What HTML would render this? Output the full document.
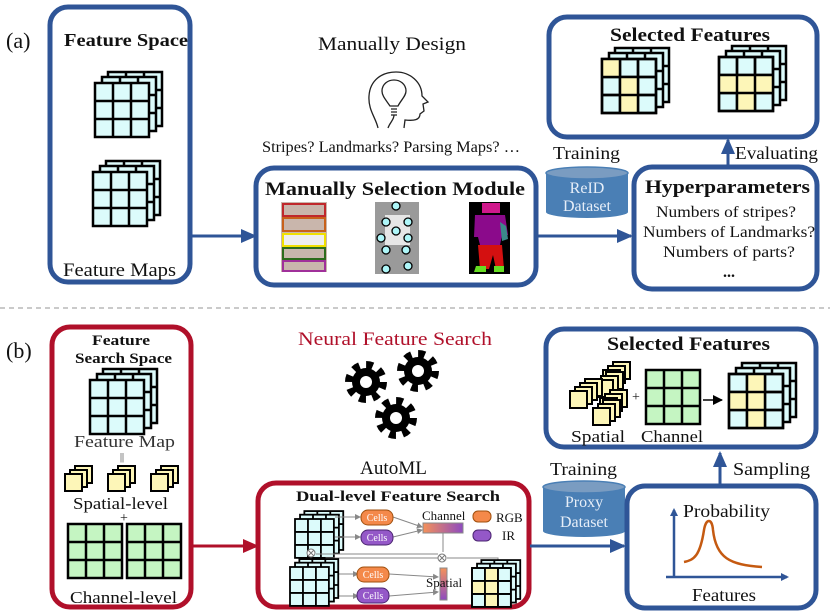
<!DOCTYPE html>
<html><head><meta charset="utf-8"><style>
html,body{margin:0;padding:0;background:#fff}
svg{display:block}
text{font-family:"Liberation Serif",serif;fill:#111}
.b{font-weight:bold}
</style></head><body>
<svg width="830" height="611" viewBox="0 0 830 611" xmlns="http://www.w3.org/2000/svg">
<defs>
<g id="g3">
<rect x="0" y="0" width="54" height="54" fill="#dcfbfb" stroke="#000" stroke-width="2.5"/>
<path d="M18 0V54M36 0V54M0 18H54M0 36H54" stroke="#000" stroke-width="2.5"/>
</g>
<g id="cube"><use href="#g3" x="13" y="-11"/><use href="#g3" x="7" y="-6"/><use href="#g3"/></g>
<g id="gg">
<rect x="0" y="0" width="54" height="54" fill="#c5f5c2" stroke="#000" stroke-width="2.5"/>
<path d="M18 0V54M36 0V54M0 18H54M0 36H54" stroke="#000" stroke-width="2.5"/>
</g>
<g id="ysq"><rect x="10" y="-8" width="17" height="17" fill="#fdf6b8" stroke="#000" stroke-width="2"/><rect x="5" y="-4" width="17" height="17" fill="#fdf6b8" stroke="#000" stroke-width="2"/><rect x="0" y="0" width="17" height="17" fill="#fdf6b8" stroke="#000" stroke-width="2"/></g>
<g id="gear"><circle r="14" fill="#000"/><circle r="17" fill="none" stroke="#000" stroke-width="8" stroke-dasharray="6.7 6.65"/><circle r="6" fill="#fff"/></g>
<linearGradient id="op" x1="0" x2="1"><stop offset="0" stop-color="#f4915a"/><stop offset="1" stop-color="#8e4bc0"/></linearGradient>
<linearGradient id="opv" x1="0" x2="0" y1="0" y2="1"><stop offset="0" stop-color="#f4915a"/><stop offset="1" stop-color="#8e4bc0"/></linearGradient>
<marker id="ab" markerWidth="8" markerHeight="8" refX="6" refY="4" orient="auto" markerUnits="userSpaceOnUse"><path d="M0 0L8 4L0 8Z" fill="#2f5597"/></marker>
<marker id="abig" markerWidth="16" markerHeight="14" refX="14" refY="7" orient="auto" markerUnits="userSpaceOnUse"><path d="M0 0L16 7L0 14Z" fill="#2f5597"/></marker>
<marker id="ar" markerWidth="16" markerHeight="14" refX="14" refY="7" orient="auto" markerUnits="userSpaceOnUse"><path d="M0 0L16 7L0 14Z" fill="#b0102a"/></marker>
<marker id="ag" markerWidth="6" markerHeight="6" refX="5" refY="3" orient="auto" markerUnits="userSpaceOnUse"><path d="M0 0L6 3L0 6Z" fill="#888"/></marker>
<marker id="ak" markerWidth="10" markerHeight="10" refX="9" refY="5" orient="auto" markerUnits="userSpaceOnUse"><path d="M0 0L10 5L0 10Z" fill="#000"/></marker>
</defs>

<!-- (a) -->
<text x="6" y="48" font-size="22">(a)</text>
<rect x="50" y="7" width="140" height="275" rx="18" fill="none" stroke="#2f5597" stroke-width="5"/>
<text x="64" y="46" font-size="18" class="b" textLength="124" lengthAdjust="spacingAndGlyphs">Feature Space</text>
<use href="#cube" x="95" y="83"/>
<use href="#cube" x="93" y="172"/>
<text x="63" y="276" font-size="19" textLength="113" lengthAdjust="spacingAndGlyphs">Feature Maps</text>
<line x1="190" y1="236" x2="255" y2="236" stroke="#2f5597" stroke-width="3" marker-end="url(#abig)"/>

<text x="318" y="50" font-size="19" textLength="148" lengthAdjust="spacingAndGlyphs">Manually Design</text>
<g fill="none" stroke="#222" stroke-width="1.3">
<path d="M378 128 C376 118 368 110 369 96 C370 80 382 72 396 72 C410 72 422 82 422 96 L428 102 L423 104 L424 111 L420 114 C420 120 414 121 405 120 L404 128"/>
<path d="M390 106 C386 100 382 96 382 91 C382 84 388 80 394 80 C400 80 406 84 406 91 C406 96 401 100 398 106 Z"/>
<path d="M391 109H397M391 112H397M391 115H397M394 115 C394 120 390 122 388 128"/>
</g>
<text x="262" y="152" font-size="16" textLength="258" lengthAdjust="spacingAndGlyphs">Stripes? Landmarks? Parsing Maps? …</text>

<rect x="256" y="168" width="280" height="117" rx="18" fill="none" stroke="#2f5597" stroke-width="5"/>
<text x="265" y="195" font-size="19" class="b" textLength="260" lengthAdjust="spacingAndGlyphs">Manually Selection Module</text>
<rect x="281" y="202" width="46" height="70" fill="#c9b6ac"/>
<rect x="283" y="204" width="42" height="12" fill="none" stroke="#c0282c" stroke-width="2"/>
<rect x="283" y="218" width="42" height="13" fill="none" stroke="#c8611b" stroke-width="2"/>
<rect x="283" y="234" width="42" height="12" fill="#eee" stroke="#f0e000" stroke-width="2"/>
<rect x="283" y="248" width="42" height="11" fill="none" stroke="#2d6b1b" stroke-width="2"/>
<rect x="283" y="261" width="42" height="10" fill="none" stroke="#a0309a" stroke-width="2"/>
<rect x="375" y="202" width="44" height="72" fill="#9a9a9a"/>
<rect x="385" y="215" width="25" height="30" fill="#e6e6e6"/>
<g fill="#aef6f8" stroke="#000" stroke-width="1.3">
<circle cx="396" cy="206" r="4"/><circle cx="386" cy="222" r="4"/><circle cx="408" cy="222" r="4"/><circle cx="396" cy="231" r="4"/><circle cx="381" cy="238" r="4"/><circle cx="408" cy="238" r="4"/><circle cx="386" cy="250" r="4"/><circle cx="406" cy="250" r="4"/><circle cx="386" cy="269" r="4"/><circle cx="408" cy="266" r="4"/>
</g>
<rect x="469" y="202" width="41" height="72" fill="#000"/>
<path d="M482 203h18v10h-18z" fill="#d0198c"/>
<path d="M475 215h30l3 20h-6l-2 10h-20l-2-8h-4z" fill="#8b0a8b"/>
<path d="M478 245h24l2 24h-8l-3-14-4 14h-9z" fill="#d41010"/>
<path d="M500 222l6 4 2 13-6 2z" fill="#3a8a8a"/>
<path d="M476 266h10v6h-12zM494 266h10v6h-10z" fill="#66dd22"/>

<line x1="536" y1="236" x2="631" y2="236" stroke="#2f5597" stroke-width="3" marker-end="url(#abig)"/>
<text x="553" y="159" font-size="18" textLength="67" lengthAdjust="spacingAndGlyphs">Training</text>
<path d="M546 173 V212 A41 6 0 0 0 628 212 V173 Z" fill="#4a7fb5"/>
<ellipse cx="587" cy="173" rx="41" ry="6" fill="#7a9cc1" stroke="#4a7fb5" stroke-width="1.5"/>
<text x="587" y="193" font-size="16" text-anchor="middle" style="fill:#e6eef8">ReID</text>
<text x="587" y="211" font-size="16" text-anchor="middle" style="fill:#e6eef8">Dataset</text>

<rect x="634" y="167" width="183" height="122" rx="18" fill="none" stroke="#2f5597" stroke-width="5"/>
<text x="645" y="193" font-size="19" class="b" textLength="165" lengthAdjust="spacingAndGlyphs">Hyperparameters</text>
<text x="726" y="217" font-size="15.5" text-anchor="middle" textLength="140" lengthAdjust="spacingAndGlyphs">Numbers of stripes?</text>
<text x="729" y="237" font-size="15.5" text-anchor="middle" textLength="172" lengthAdjust="spacingAndGlyphs">Numbers of Landmarks?</text>
<text x="729" y="257" font-size="15.5" text-anchor="middle" textLength="132" lengthAdjust="spacingAndGlyphs">Numbers of  parts?</text>
<text x="729" y="277" font-size="16" class="b" text-anchor="middle">...</text>
<line x1="728" y1="167" x2="728" y2="140" stroke="#2f5597" stroke-width="3" marker-end="url(#abig)"/>
<text x="735" y="159" font-size="18" textLength="83" lengthAdjust="spacingAndGlyphs">Evaluating</text>

<rect x="549" y="17" width="268" height="120" rx="18" fill="none" stroke="#2f5597" stroke-width="5"/>
<text x="610" y="41" font-size="19" class="b" textLength="160" lengthAdjust="spacingAndGlyphs">Selected Features</text>
<use href="#cube" x="602" y="59"/>
<rect x="603" y="60" width="17" height="17" fill="#fdf6b8"/><rect x="621" y="78" width="17" height="17" fill="#fdf6b8"/><rect x="621" y="96" width="17" height="17" fill="#fdf6b8"/>
<path d="M602 59h54v54h-54zM620 59V113M638 59V113M602 77H656M602 95H656" fill="none" stroke="#000" stroke-width="2.5"/>
<use href="#cube" x="719" y="57"/>
<rect x="720" y="76" width="53" height="17" fill="#fdf6b8"/><rect x="738" y="94" width="17" height="17" fill="#fdf6b8"/>
<path d="M719 57h54v54h-54zM737 57V111M755 57V111M719 75H773M719 93H773" fill="none" stroke="#000" stroke-width="2.5"/>

<line x1="0" y1="308" x2="830" y2="308" stroke="#aaa" stroke-width="1.2" stroke-dasharray="5 4"/>

<!-- (b) -->
<text x="6" y="358" font-size="22">(b)</text>
<rect x="52" y="327" width="139" height="280" rx="18" fill="none" stroke="#b0102a" stroke-width="5"/>
<text x="92" y="345" font-size="15" class="b" textLength="58" lengthAdjust="spacingAndGlyphs">Feature</text>
<text x="75" y="363" font-size="15" class="b" textLength="97" lengthAdjust="spacingAndGlyphs">Search Space</text>
<use href="#cube" x="90" y="380"/>
<text x="74" y="447" font-size="17" textLength="101" lengthAdjust="spacingAndGlyphs" style="fill:#333">Feature Map</text>
<text x="122" y="460" font-size="10" text-anchor="middle">||</text>
<use href="#ysq" x="65" y="474"/><use href="#ysq" x="108" y="474"/><use href="#ysq" x="151" y="474"/>
<text x="73" y="509" font-size="17" textLength="95" lengthAdjust="spacingAndGlyphs">Spatial-level</text>
<text x="124" y="522" font-size="14" text-anchor="middle">+</text>
<use href="#gg" x="68" y="524"/><use href="#gg" x="127" y="524"/>
<text x="70" y="603" font-size="17" textLength="107" lengthAdjust="spacingAndGlyphs">Channel-level</text>
<line x1="191" y1="546" x2="257" y2="546" stroke="#b0102a" stroke-width="3" marker-end="url(#ar)"/>

<text x="298" y="345" font-size="19" textLength="194" lengthAdjust="spacingAndGlyphs" style="fill:#b0102a">Neural Feature Search</text>
<use href="#gear" x="366" y="382"/><use href="#gear" x="418" y="371"/><use href="#gear" x="396" y="418"/>
<text x="360" y="474" font-size="19" textLength="67" lengthAdjust="spacingAndGlyphs">AutoML</text>

<rect x="258" y="483" width="271" height="124" rx="18" fill="none" stroke="#b0102a" stroke-width="5"/>
<text x="296" y="501" font-size="15" class="b" textLength="204" lengthAdjust="spacingAndGlyphs">Dual-level Feature Search</text>
<g transform="translate(295,519) scale(0.72)"><use href="#cube"/></g>
<g stroke="#888" stroke-width="1" fill="none">
<path d="M335 517H360" marker-end="url(#ag)"/><path d="M335 537H360" marker-end="url(#ag)"/>
<path d="M393 517L422 527" marker-end="url(#ag)"/><path d="M393 537L422 530" marker-end="url(#ag)"/>
<path d="M443 533V552"/><path d="M438 554H316"/><path d="M311 558V566"/>
<path d="M326 567V558H438"/><path d="M447 558H498V566" marker-end="url(#ag)"/>
<path d="M330 574H358" marker-end="url(#ag)"/><path d="M330 596H358" marker-end="url(#ag)"/>
<path d="M389 574L438 577" marker-end="url(#ag)"/><path d="M389 596L438 592" marker-end="url(#ag)"/>
</g>
<g font-size="10">
<rect x="361" y="510" width="32" height="15" rx="7" fill="#f4894a" stroke="#a0500d"/><text x="377" y="521" font-size="10" text-anchor="middle" style="fill:#fff">Cells</text>
<rect x="361" y="530" width="32" height="15" rx="7" fill="#9458c8" stroke="#4a2470"/><text x="377" y="541" font-size="10" text-anchor="middle" style="fill:#fff">Cells</text>
<rect x="357" y="567" width="32" height="15" rx="7" fill="#f4894a" stroke="#a0500d"/><text x="373" y="578" font-size="10" text-anchor="middle" style="fill:#fff">Cells</text>
<rect x="357" y="588" width="32" height="15" rx="7" fill="#9458c8" stroke="#4a2470"/><text x="373" y="599" font-size="10" text-anchor="middle" style="fill:#fff">Cells</text>
</g>
<text x="422" y="520" font-size="13">Channel</text>
<rect x="423" y="523" width="40" height="10" fill="url(#op)" stroke="#888"/>
<rect x="473" y="511" width="18" height="11" rx="5" fill="#f4894a" stroke="#a0500d"/>
<text x="496" y="522" font-size="13">RGB</text>
<rect x="473" y="530" width="18" height="11" rx="5" fill="#9458c8" stroke="#4a2470"/>
<text x="502" y="540" font-size="13">IR</text>
<circle cx="311" cy="553" r="4" fill="#fff" stroke="#777"/><path d="M308 550l6 6M314 550l-6 6" stroke="#777"/>
<circle cx="442" cy="558" r="4" fill="#fff" stroke="#777"/><path d="M439 555l6 6M445 555l-6 6" stroke="#777"/>
<g transform="translate(290,567) scale(0.72)"><use href="#cube"/></g>
<rect x="440" y="568" width="7" height="32" fill="url(#opv)" stroke="#888"/>
<text x="426" y="587" font-size="13">Spatial</text>
<g transform="translate(472,568) scale(0.72)"><use href="#cube"/><rect x="19" y="1" width="16" height="52" fill="#fdf6b8"/><rect x="1" y="19" width="16" height="16" fill="#fdf6b8"/><path d="M0 0h54v54h-54zM18 0V54M36 0V54M0 18H54M0 36H54" fill="none" stroke="#000" stroke-width="2.5"/></g>

<line x1="530" y1="546" x2="624" y2="546" stroke="#2f5597" stroke-width="3" marker-end="url(#abig)"/>
<text x="550" y="475" font-size="18" textLength="67" lengthAdjust="spacingAndGlyphs">Training</text>
<path d="M543 487 V531 A41 6 0 0 0 625 531 V487 Z" fill="#4a7fb5"/>
<ellipse cx="584" cy="487" rx="41" ry="6" fill="#7a9cc1" stroke="#4a7fb5" stroke-width="1.5"/>
<text x="584" y="507" font-size="16" text-anchor="middle" style="fill:#e6eef8">Proxy</text>
<text x="584" y="527" font-size="16" text-anchor="middle" style="fill:#e6eef8">Dataset</text>

<rect x="627" y="486" width="189" height="122" rx="18" fill="none" stroke="#2f5597" stroke-width="5"/>
<line x1="674" y1="577" x2="674" y2="510" stroke="#2f5597" stroke-width="2.5" marker-end="url(#ab)"/>
<line x1="666" y1="577" x2="787" y2="577" stroke="#2f5597" stroke-width="2.5" marker-end="url(#ab)"/>
<path d="M684 562 C694 560 700 556 704 530 C706 518 712 518 713 530 C716 558 730 565 762 567" fill="none" stroke="#c55a11" stroke-width="2.5"/>
<text x="683" y="517" font-size="18" textLength="87" lengthAdjust="spacingAndGlyphs">Probability</text>
<text x="692" y="601" font-size="18" textLength="64" lengthAdjust="spacingAndGlyphs">Features</text>
<line x1="720" y1="486" x2="720" y2="453" stroke="#2f5597" stroke-width="3" marker-end="url(#abig)"/>
<text x="733" y="475" font-size="18" textLength="77" lengthAdjust="spacingAndGlyphs">Sampling</text>

<rect x="546" y="329" width="270" height="118" rx="18" fill="none" stroke="#2f5597" stroke-width="5"/>
<text x="607" y="350" font-size="19" class="b" textLength="163" lengthAdjust="spacingAndGlyphs">Selected Features</text>
<use href="#ysq" x="603" y="370"/><use href="#ysq" x="596" y="380"/><use href="#ysq" x="575" y="387"/><use href="#ysq" x="570" y="391"/><use href="#ysq" x="600" y="398"/><use href="#ysq" x="593" y="408"/>
<text x="636" y="401" font-size="14" text-anchor="middle">+</text>
<use href="#gg" x="646" y="370"/>
<line x1="703" y1="400" x2="722" y2="400" stroke="#000" stroke-width="1.5" marker-end="url(#ak)"/>
<use href="#cube" x="729" y="374"/>
<rect x="748" y="375" width="16" height="52" fill="#fdf6b8"/><rect x="730" y="393" width="16" height="16" fill="#fdf6b8"/>
<path d="M729 374h54v54h-54zM747 374V428M765 374V428M729 392H783M729 410H783" fill="none" stroke="#000" stroke-width="2.5"/>
<text x="571" y="442" font-size="17" textLength="54" lengthAdjust="spacingAndGlyphs">Spatial</text>
<text x="641" y="442" font-size="17" textLength="62" lengthAdjust="spacingAndGlyphs">Channel</text>
</svg>
</body></html>
